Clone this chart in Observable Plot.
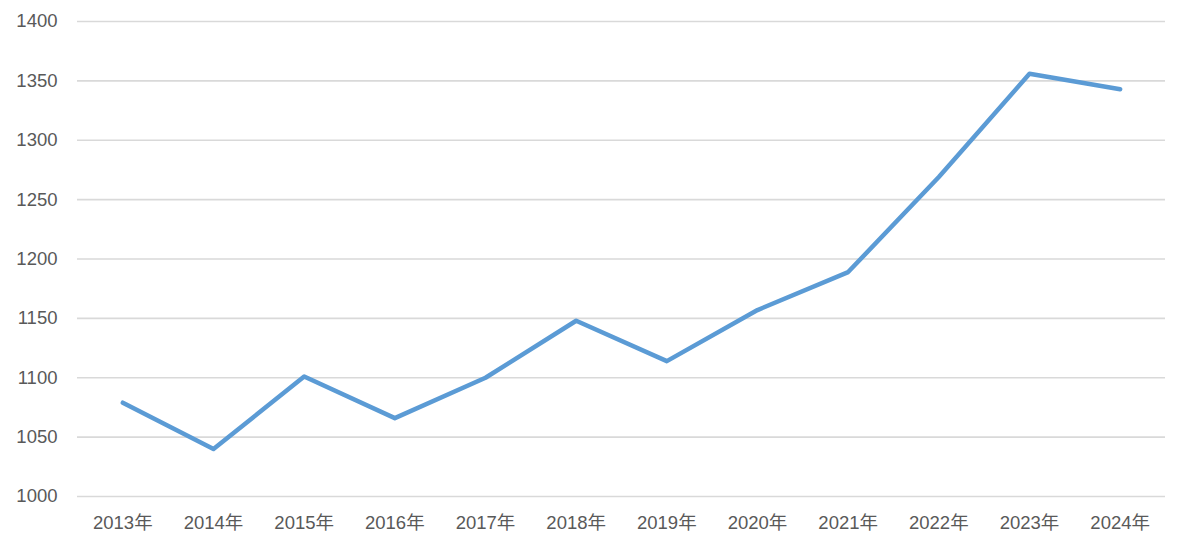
<!DOCTYPE html>
<html>
<head>
<meta charset="utf-8">
<script src="https://cdn.jsdelivr.net/npm/d3@7"></script>
<script src="https://cdn.jsdelivr.net/npm/@observablehq/plot@0.6"></script>
<style>
  html, body { margin: 0; padding: 0; background: #fff; }
  #chart svg { display: block; }
</style>
</head>
<body>
<div id="chart"></div>
<script>
const years = ["2013年","2014年","2015年","2016年","2017年","2018年","2019年","2020年","2021年","2022年","2023年","2024年"];
const values = [1079, 1040, 1101, 1066, 1100, 1148, 1114, 1157, 1189, 1269, 1356, 1343];
const yTicks = [1000, 1050, 1100, 1150, 1200, 1250, 1300, 1350, 1400];

const data = years.map((y, i) => ({year: y, value: values[i]}));

const chart = Plot.plot({
  width: 1179,
  height: 541,
  marginLeft: 77,
  marginRight: 14,
  marginTop: 21,
  marginBottom: 45,
  style: {fontFamily: "'Liberation Sans', 'Noto Sans CJK SC', sans-serif", fontSize: "18.5px", color: "#595959", background: "#fff"},
  x: {type: "point", domain: years, padding: 0.5, round: false, label: null, tickSize: 0, tickPadding: 19},
  y: {domain: [1000, 1400], ticks: yTicks, tickFormat: d3.format("d"), label: null, tickSize: 0, tickPadding: 20},
  marks: [
    Plot.ruleY(yTicks, {stroke: "#d9d9d9", strokeWidth: 1.6}),
    Plot.line(data, {x: "year", y: "value", stroke: "#5B9BD5", strokeWidth: 4.5, strokeLinejoin: "round", strokeLinecap: "round"})
  ]
});
document.getElementById("chart").appendChild(chart);
</script>
</body>
</html>
